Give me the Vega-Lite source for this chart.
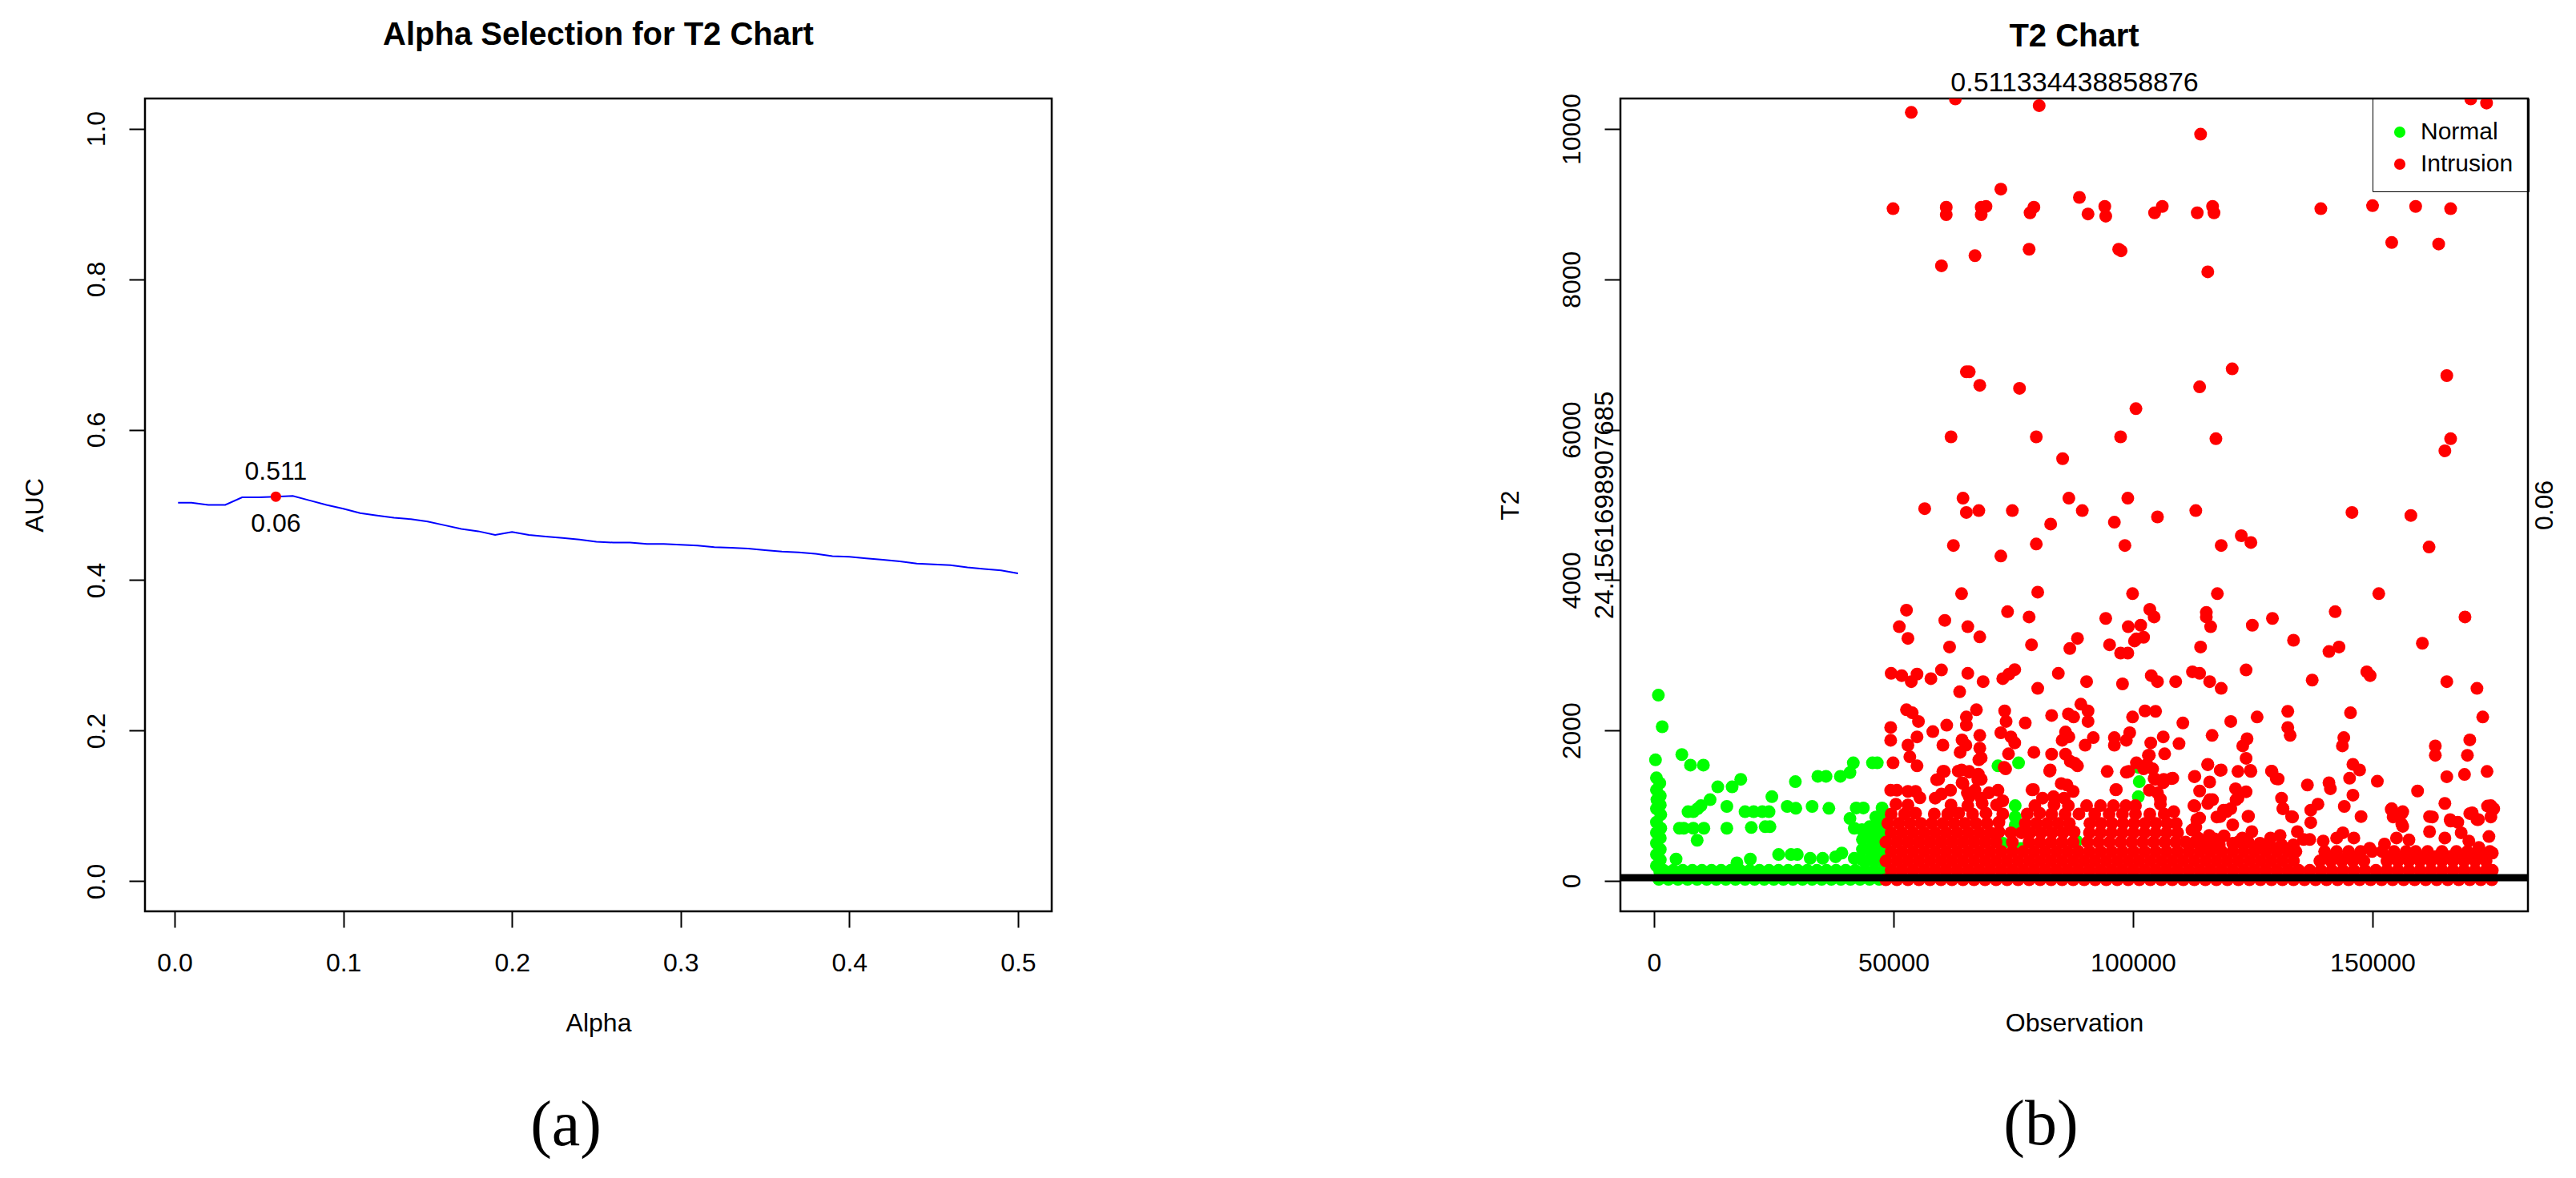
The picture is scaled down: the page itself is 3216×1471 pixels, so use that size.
{"$schema":"https://vega.github.io/schema/vega-lite/v6.json","background":"white","padding":{"left":25,"top":22,"right":0,"bottom":0},"bounds":"flush","spacing":710,"resolve":{"scale":{"color":"independent"},"legend":{"color":"independent"}},
"config":{"font":"Liberation Sans","axis":{"grid":false,"domain":false,"tickColor":"black","tickWidth":2,"tickSize":20,"labelColor":"black","labelFontSize":32,"titleFontSize":32,"titleFontWeight":"normal","titleColor":"black","labelPadding":24,"labelFlush":false,"labelOverlap":false},"axisY":{"labelAngle":270,"labelAlign":"center","labelBaseline":"bottom","titlePadding":44},"axisX":{"labelPadding":29,"titlePadding":44},"title":{"fontSize":40,"fontWeight":"bold","color":"black","anchor":"middle","offset":59},"view":{"stroke":"black","strokeWidth":2.5}},
"datasets":{"auc":[{"a":0.002,"v":0.503},{"a":0.01,"v":0.503},{"a":0.02,"v":0.5},{"a":0.03,"v":0.5},{"a":0.04,"v":0.51},{"a":0.05,"v":0.51},{"a":0.06,"v":0.511},{"a":0.07,"v":0.512},{"a":0.08,"v":0.506},{"a":0.09,"v":0.5},{"a":0.1,"v":0.495},{"a":0.11,"v":0.489},{"a":0.12,"v":0.486},{"a":0.13,"v":0.483},{"a":0.14,"v":0.481},{"a":0.15,"v":0.478},{"a":0.16,"v":0.473},{"a":0.17,"v":0.468},{"a":0.18,"v":0.465},{"a":0.19,"v":0.46},{"a":0.2,"v":0.464},{"a":0.21,"v":0.46},{"a":0.22,"v":0.458},{"a":0.23,"v":0.456},{"a":0.24,"v":0.454},{"a":0.25,"v":0.451},{"a":0.26,"v":0.45},{"a":0.27,"v":0.45},{"a":0.28,"v":0.448},{"a":0.29,"v":0.448},{"a":0.3,"v":0.447},{"a":0.31,"v":0.446},{"a":0.32,"v":0.444},{"a":0.33,"v":0.443},{"a":0.34,"v":0.442},{"a":0.35,"v":0.44},{"a":0.36,"v":0.438},{"a":0.37,"v":0.437},{"a":0.38,"v":0.435},{"a":0.39,"v":0.432},{"a":0.4,"v":0.431},{"a":0.41,"v":0.429},{"a":0.42,"v":0.427},{"a":0.43,"v":0.425},{"a":0.44,"v":0.422},{"a":0.45,"v":0.421},{"a":0.46,"v":0.42},{"a":0.47,"v":0.417},{"a":0.48,"v":0.415},{"a":0.49,"v":0.413},{"a":0.5,"v":0.409}],
"norm":[{"o":900,"t":2470},{"o":1700,"t":2050},{"o":300,"t":1610},{"o":5800,"t":1680},{"o":7600,"t":1540},{"o":10300,"t":1540},{"o":500,"t":1370},{"o":1200,"t":1300},{"o":500,"t":1210},{"o":1300,"t":1130},{"o":600,"t":1080},{"o":1300,"t":1010},{"o":500,"t":960},{"o":1400,"t":880},{"o":500,"t":780},{"o":1400,"t":700},{"o":500,"t":640},{"o":1300,"t":570},{"o":500,"t":500},{"o":1300,"t":420},{"o":500,"t":350},{"o":1300,"t":280},{"o":500,"t":200},{"o":1200,"t":120},{"o":4600,"t":290},{"o":6200,"t":700},{"o":5300,"t":700},{"o":8200,"t":700},{"o":10400,"t":700},{"o":9000,"t":540},{"o":15200,"t":700},{"o":20300,"t":710},{"o":23200,"t":720},{"o":24200,"t":720},{"o":7100,"t":920},{"o":8200,"t":920},{"o":9100,"t":960},{"o":9800,"t":1000},{"o":11700,"t":1080},{"o":15200,"t":990},{"o":19000,"t":920},{"o":20800,"t":920},{"o":22600,"t":920},{"o":24000,"t":920},{"o":27800,"t":990},{"o":29600,"t":965},{"o":33000,"t":990},{"o":36500,"t":965},{"o":24600,"t":1120},{"o":13300,"t":1250},{"o":16300,"t":1250},{"o":18100,"t":1350},{"o":29500,"t":1320},{"o":34200,"t":1390},{"o":35900,"t":1390},{"o":38900,"t":1390},{"o":40900,"t":1440},{"o":41600,"t":1570},{"o":45600,"t":1570},{"o":46600,"t":1570},{"o":42200,"t":970},{"o":43700,"t":970},{"o":40900,"t":830},{"o":41800,"t":700},{"o":17300,"t":240},{"o":20100,"t":290},{"o":26000,"t":350},{"o":28600,"t":350},{"o":29900,"t":350},{"o":32600,"t":300},{"o":35200,"t":300},{"o":39200,"t":370},{"o":37900,"t":320},{"o":41800,"t":300},{"o":43400,"t":680},{"o":43500,"t":550},{"o":43500,"t":420},{"o":43500,"t":280},{"o":45000,"t":720},{"o":45000,"t":570},{"o":45000,"t":420},{"o":45000,"t":280},{"o":46300,"t":850},{"o":46300,"t":700},{"o":46300,"t":550},{"o":46300,"t":400},{"o":46300,"t":270},{"o":47600,"t":970},{"o":47600,"t":820},{"o":47600,"t":680},{"o":47600,"t":540},{"o":47600,"t":400},{"o":47600,"t":270},{"o":71800,"t":1530},{"o":76100,"t":1570},{"o":75400,"t":1000},{"o":75400,"t":850},{"o":75400,"t":740},{"o":72800,"t":500},{"o":76600,"t":430},{"o":88200,"t":530},{"o":101100,"t":1510},{"o":101300,"t":1320},{"o":101100,"t":1120},{"o":1000,"t":20},{"o":3000,"t":20},{"o":5000,"t":20},{"o":7000,"t":20},{"o":9000,"t":20},{"o":11000,"t":20},{"o":13000,"t":20},{"o":15000,"t":20},{"o":17000,"t":20},{"o":19000,"t":20},{"o":21000,"t":20},{"o":23000,"t":20},{"o":25000,"t":20},{"o":27000,"t":20},{"o":29000,"t":20},{"o":31000,"t":20},{"o":33000,"t":20},{"o":35000,"t":20},{"o":37000,"t":20},{"o":39000,"t":20},{"o":41000,"t":20},{"o":43000,"t":20},{"o":45000,"t":20},{"o":47000,"t":20},{"o":2000,"t":140},{"o":4000,"t":140},{"o":6000,"t":140},{"o":8000,"t":140},{"o":10000,"t":140},{"o":12000,"t":140},{"o":14000,"t":140},{"o":16000,"t":140},{"o":18000,"t":140},{"o":20000,"t":140},{"o":22000,"t":140},{"o":24000,"t":140},{"o":26000,"t":140},{"o":28000,"t":140},{"o":30000,"t":140},{"o":32000,"t":140},{"o":34000,"t":140},{"o":36000,"t":140},{"o":38000,"t":140},{"o":40000,"t":140},{"o":42000,"t":140},{"o":44000,"t":140},{"o":46000,"t":140},{"o":48000,"t":140}],
"intr":[{"o":62900,"t":10400},{"o":53700,"t":10220},{"o":80400,"t":10310},{"o":114100,"t":9930},{"o":170500,"t":10400},{"o":173800,"t":10345},{"o":72400,"t":9200},{"o":88800,"t":9090},{"o":49900,"t":8940},{"o":61000,"t":8960},{"o":61000,"t":8860},{"o":68300,"t":8960},{"o":68300,"t":8860},{"o":69300,"t":8970},{"o":78500,"t":8885},{"o":79300,"t":8960},{"o":90600,"t":8870},{"o":94100,"t":8970},{"o":94300,"t":8840},{"o":104500,"t":8885},{"o":106100,"t":8970},{"o":113400,"t":8885},{"o":116600,"t":8970},{"o":116900,"t":8885},{"o":139200,"t":8940},{"o":150000,"t":8980},{"o":159000,"t":8970},{"o":166300,"t":8940},{"o":154000,"t":8490},{"o":163800,"t":8470},{"o":78300,"t":8400},{"o":97000,"t":8400},{"o":97500,"t":8380},{"o":67000,"t":8315},{"o":60000,"t":8180},{"o":115600,"t":8100},{"o":65200,"t":6770},{"o":65800,"t":6770},{"o":120700,"t":6810},{"o":165500,"t":6720},{"o":68000,"t":6590},{"o":76300,"t":6550},{"o":113900,"t":6570},{"o":100600,"t":6280},{"o":62000,"t":5905},{"o":79800,"t":5905},{"o":97400,"t":5905},{"o":117300,"t":5880},{"o":166300,"t":5880},{"o":165100,"t":5720},{"o":85300,"t":5615},{"o":64500,"t":5090},{"o":86600,"t":5090},{"o":98900,"t":5090},{"o":56500,"t":4950},{"o":65200,"t":4900},{"o":67800,"t":4925},{"o":74800,"t":4925},{"o":89400,"t":4925},{"o":113100,"t":4925},{"o":145700,"t":4900},{"o":158000,"t":4860},{"o":105100,"t":4840},{"o":96100,"t":4770},{"o":82800,"t":4745},{"o":122600,"t":4590},{"o":124600,"t":4500},{"o":62500,"t":4460},{"o":79800,"t":4480},{"o":98300,"t":4460},{"o":118400,"t":4460},{"o":161800,"t":4440},{"o":72400,"t":4320},{"o":64200,"t":3820},{"o":80100,"t":3840},{"o":99900,"t":3820},{"o":117600,"t":3820},{"o":151300,"t":3820},{"o":52700,"t":3600},{"o":73800,"t":3580},{"o":78300,"t":3510},{"o":60700,"t":3465},{"o":94300,"t":3490},{"o":103500,"t":3610},{"o":104400,"t":3510},{"o":115300,"t":3570},{"o":115300,"t":3510},{"o":129100,"t":3490},{"o":142200,"t":3580},{"o":169300,"t":3510},{"o":51200,"t":3380},{"o":65500,"t":3380},{"o":99000,"t":3380},{"o":101600,"t":3400},{"o":116200,"t":3380},{"o":124900,"t":3400},{"o":53000,"t":3225},{"o":68000,"t":3245},{"o":88400,"t":3225},{"o":100700,"t":3220},{"o":102200,"t":3240},{"o":100300,"t":3190},{"o":133500,"t":3200},{"o":61700,"t":3110},{"o":78800,"t":3140},{"o":95100,"t":3140},{"o":86800,"t":3090},{"o":114100,"t":3110},{"o":97400,"t":3030},{"o":98900,"t":3030},{"o":140900,"t":3050},{"o":143000,"t":3110},{"o":160400,"t":3160},{"o":49500,"t":2760},{"o":51700,"t":2730},{"o":53700,"t":2650},{"o":54900,"t":2750},{"o":57800,"t":2690},{"o":60000,"t":2805},{"o":65500,"t":2760},{"o":68700,"t":2650},{"o":72800,"t":2690},{"o":74100,"t":2750},{"o":75300,"t":2810},{"o":84400,"t":2760},{"o":90300,"t":2650},{"o":97800,"t":2620},{"o":103800,"t":2730},{"o":105100,"t":2650},{"o":108900,"t":2650},{"o":112400,"t":2780},{"o":113900,"t":2760},{"o":116000,"t":2650},{"o":118400,"t":2560},{"o":123600,"t":2805},{"o":137400,"t":2670},{"o":148800,"t":2780},{"o":149500,"t":2730},{"o":165500,"t":2650},{"o":171800,"t":2560},{"o":63800,"t":2515},{"o":80100,"t":2560},{"o":89100,"t":2350},{"o":90600,"t":2260},{"o":52700,"t":2275},{"o":53900,"t":2235},{"o":55200,"t":2120},{"o":67300,"t":2275},{"o":65200,"t":2180},{"o":73200,"t":2260},{"o":73500,"t":2120},{"o":83000,"t":2200},{"o":86500,"t":2220},{"o":87600,"t":2180},{"o":90600,"t":2120},{"o":99900,"t":2180},{"o":102500,"t":2260},{"o":104700,"t":2255},{"o":110400,"t":2100},{"o":120400,"t":2120},{"o":125900,"t":2180},{"o":132300,"t":2255},{"o":145400,"t":2235},{"o":173000,"t":2180},{"o":49400,"t":2040},{"o":61100,"t":2070},{"o":65200,"t":2070},{"o":77500,"t":2100},{"o":132300,"t":2040},{"o":49400,"t":1870},{"o":54900,"t":1915},{"o":58200,"t":1985},{"o":68000,"t":1935},{"o":72400,"t":1970},{"o":74500,"t":1915},{"o":85900,"t":1980},{"o":86600,"t":1915},{"o":85200,"t":1870},{"o":91700,"t":1905},{"o":96100,"t":1905},{"o":99300,"t":1970},{"o":106300,"t":1915},{"o":116500,"t":1935},{"o":132800,"t":1935},{"o":144000,"t":1905},{"o":123800,"t":1890},{"o":170300,"t":1875},{"o":53000,"t":1805},{"o":60300,"t":1805},{"o":64300,"t":1875},{"o":65100,"t":1805},{"o":75300,"t":1835},{"o":90000,"t":1805},{"o":96100,"t":1805},{"o":98600,"t":1870},{"o":103700,"t":1835},{"o":109600,"t":1825},{"o":122900,"t":1795},{"o":143700,"t":1795},{"o":163100,"t":1795},{"o":63900,"t":1710},{"o":68000,"t":1765},{"o":79300,"t":1710},{"o":83000,"t":1685},{"o":85900,"t":1685},{"o":74000,"t":1690},{"o":103200,"t":1670},{"o":106600,"t":1690},{"o":123600,"t":1630},{"o":163100,"t":1670},{"o":169800,"t":1670},{"o":49900,"t":1570},{"o":53400,"t":1650},{"o":54900,"t":1530},{"o":67800,"t":1610},{"o":73100,"t":1510},{"o":86900,"t":1590},{"o":88400,"t":1530},{"o":100700,"t":1570},{"o":102900,"t":1550},{"o":115600,"t":1550},{"o":145900,"t":1550},{"o":147300,"t":1475},{"o":60300,"t":1455},{"o":63500,"t":1460},{"o":65800,"t":1445},{"o":82600,"t":1460},{"o":94600,"t":1455},{"o":98600,"t":1445},{"o":102200,"t":1490},{"o":118200,"t":1470},{"o":124500,"t":1470},{"o":128900,"t":1460},{"o":169200,"t":1415},{"o":173900,"t":1455},{"o":165500,"t":1385},{"o":59000,"t":1345},{"o":64300,"t":1305},{"o":67600,"t":1345},{"o":112800,"t":1385},{"o":116000,"t":1315},{"o":129900,"t":1360},{"o":104400,"t":1360},{"o":108000,"t":1360},{"o":106300,"t":1305},{"o":140900,"t":1305},{"o":145200,"t":1365},{"o":151000,"t":1325},{"o":136400,"t":1275},{"o":141200,"t":1225},{"o":78900,"t":1210},{"o":96400,"t":1210},{"o":113900,"t":1195},{"o":121400,"t":1225},{"o":123600,"t":1185},{"o":159400,"t":1195},{"o":131000,"t":1100},{"o":145900,"t":1140},{"o":165100,"t":1030},{"o":138600,"t":1020},{"o":144100,"t":990},{"o":131300,"t":960},{"o":137100,"t":940},{"o":112700,"t":1000},{"o":116000,"t":1080},{"o":121900,"t":1100},{"o":120400,"t":960},{"o":124000,"t":855},{"o":153900,"t":950},{"o":156100,"t":895},{"o":133100,"t":855},{"o":147600,"t":855},{"o":174700,"t":1000},{"o":175000,"t":940},{"o":170300,"t":895},{"o":171800,"t":815},{"o":161900,"t":855},{"o":166300,"t":795},{"o":137100,"t":775},{"o":118200,"t":855},{"o":119400,"t":940},{"o":113900,"t":835},{"o":113100,"t":715},{"o":156100,"t":755},{"o":49400,"t":1205},{"o":50700,"t":1205},{"o":53000,"t":1190},{"o":54600,"t":1190},{"o":55500,"t":1105},{"o":58700,"t":1100},{"o":60000,"t":1155},{"o":61900,"t":1205},{"o":65800,"t":1120},{"o":68300,"t":1100},{"o":69900,"t":1170},{"o":71800,"t":1205},{"o":65400,"t":1170},{"o":67000,"t":1205},{"o":72800,"t":1065},{"o":81100,"t":1100},{"o":83400,"t":1120},{"o":85600,"t":1100},{"o":59400,"t":1350},{"o":64200,"t":1475},{"o":65800,"t":1455},{"o":67700,"t":1420},{"o":68300,"t":1350},{"o":64500,"t":1295},{"o":60600,"t":1455},{"o":73400,"t":1490},{"o":68300,"t":1635},{"o":85000,"t":1295},{"o":86200,"t":1275},{"o":87500,"t":1190},{"o":79200,"t":1215},{"o":82700,"t":1475},{"o":87800,"t":1565},{"o":96500,"t":1215},{"o":103400,"t":1670},{"o":104100,"t":1490},{"o":99100,"t":1455},{"o":104700,"t":1350},{"o":106400,"t":1350},{"o":108300,"t":1365},{"o":103400,"t":1205},{"o":105100,"t":1170},{"o":105700,"t":1090},{"o":112900,"t":1390},{"o":115600,"t":1545},{"o":118400,"t":1475},{"o":121900,"t":1455},{"o":124600,"t":1455},{"o":129000,"t":1455},{"o":130300,"t":1355},{"o":124100,"t":860},{"o":121500,"t":1080},{"o":118900,"t":940},{"o":112900,"t":995},{"o":115600,"t":1030},{"o":116600,"t":1080},{"o":117500,"t":850},{"o":119500,"t":920},{"o":120800,"t":745},{"o":122800,"t":570},{"o":124800,"t":655},{"o":113300,"t":815},{"o":112300,"t":675},{"o":113600,"t":570},{"o":115900,"t":605},{"o":131300,"t":960},{"o":133300,"t":850},{"o":134300,"t":655},{"o":130700,"t":605},{"o":128700,"t":570},{"o":135600,"t":550},{"o":136900,"t":550},{"o":139700,"t":530},{"o":142500,"t":570},{"o":143800,"t":640},{"o":146100,"t":570},{"o":149400,"t":435},{"o":152500,"t":490},{"o":154000,"t":960},{"o":154300,"t":850},{"o":156300,"t":920},{"o":156300,"t":725},{"o":155000,"t":570},{"o":157600,"t":545},{"o":161900,"t":655},{"o":162500,"t":850},{"o":165100,"t":570},{"o":166200,"t":815},{"o":167800,"t":780},{"o":168500,"t":640},{"o":170100,"t":530},{"o":172200,"t":445},{"o":175000,"t":370},{"o":174300,"t":590},{"o":174700,"t":850},{"o":175300,"t":960},{"o":170800,"t":905},{"o":172100,"t":815},{"o":174000,"t":995},{"o":48400,"t":15},{"o":50700,"t":15},{"o":53000,"t":15},{"o":55300,"t":15},{"o":57600,"t":15},{"o":59900,"t":15},{"o":62200,"t":15},{"o":64500,"t":15},{"o":66800,"t":15},{"o":69100,"t":15},{"o":71400,"t":15},{"o":73700,"t":15},{"o":76000,"t":15},{"o":78300,"t":15},{"o":80600,"t":15},{"o":82900,"t":15},{"o":85200,"t":15},{"o":87500,"t":15},{"o":89800,"t":15},{"o":92100,"t":15},{"o":94400,"t":15},{"o":96700,"t":15},{"o":99000,"t":15},{"o":101300,"t":15},{"o":103600,"t":15},{"o":105900,"t":15},{"o":108200,"t":15},{"o":110500,"t":15},{"o":112800,"t":15},{"o":115100,"t":15},{"o":117400,"t":15},{"o":119700,"t":15},{"o":122000,"t":15},{"o":124300,"t":15},{"o":126600,"t":15},{"o":128900,"t":15},{"o":131200,"t":15},{"o":133500,"t":15},{"o":135800,"t":15},{"o":138100,"t":15},{"o":140400,"t":15},{"o":142700,"t":15},{"o":145000,"t":15},{"o":147300,"t":15},{"o":149600,"t":15},{"o":151900,"t":15},{"o":154200,"t":15},{"o":156500,"t":15},{"o":158800,"t":15},{"o":161100,"t":15},{"o":163400,"t":15},{"o":165700,"t":15},{"o":168000,"t":15},{"o":170300,"t":15},{"o":172600,"t":15},{"o":174900,"t":15},{"o":49500,"t":140},{"o":51800,"t":140},{"o":54100,"t":140},{"o":56400,"t":140},{"o":58700,"t":140},{"o":61000,"t":140},{"o":63300,"t":140},{"o":65600,"t":140},{"o":67900,"t":140},{"o":70200,"t":140},{"o":72500,"t":140},{"o":74800,"t":140},{"o":77100,"t":140},{"o":79400,"t":140},{"o":81700,"t":140},{"o":84000,"t":140},{"o":86300,"t":140},{"o":88600,"t":140},{"o":90900,"t":140},{"o":93200,"t":140},{"o":95500,"t":140},{"o":97800,"t":140},{"o":100100,"t":140},{"o":102400,"t":140},{"o":104700,"t":140},{"o":107000,"t":140},{"o":109300,"t":140},{"o":111600,"t":140},{"o":113900,"t":140},{"o":116200,"t":140},{"o":118500,"t":140},{"o":120800,"t":140},{"o":123100,"t":140},{"o":125400,"t":140},{"o":127700,"t":140},{"o":130000,"t":140},{"o":132300,"t":140},{"o":134600,"t":140},{"o":136900,"t":140},{"o":139200,"t":140},{"o":141500,"t":140},{"o":143800,"t":140},{"o":146100,"t":140},{"o":148400,"t":140},{"o":150700,"t":140},{"o":153000,"t":140},{"o":155300,"t":140},{"o":157600,"t":140},{"o":159900,"t":140},{"o":162200,"t":140},{"o":164500,"t":140},{"o":166800,"t":140},{"o":169100,"t":140},{"o":171400,"t":140},{"o":173700,"t":140},{"o":175000,"t":140},{"o":48400,"t":265},{"o":50700,"t":265},{"o":53000,"t":265},{"o":55300,"t":265},{"o":57600,"t":265},{"o":59900,"t":265},{"o":62200,"t":265},{"o":64500,"t":265},{"o":66800,"t":265},{"o":69100,"t":265},{"o":71400,"t":265},{"o":73700,"t":265},{"o":76000,"t":265},{"o":78300,"t":265},{"o":80600,"t":265},{"o":82900,"t":265},{"o":85200,"t":265},{"o":87500,"t":265},{"o":89800,"t":265},{"o":92100,"t":265},{"o":94400,"t":265},{"o":96700,"t":265},{"o":99000,"t":265},{"o":101300,"t":265},{"o":103600,"t":265},{"o":105900,"t":265},{"o":108200,"t":265},{"o":110500,"t":265},{"o":112800,"t":265},{"o":115100,"t":265},{"o":117400,"t":265},{"o":119700,"t":265},{"o":122000,"t":265},{"o":124300,"t":265},{"o":126600,"t":265},{"o":128900,"t":265},{"o":131200,"t":265},{"o":133500,"t":265},{"o":139000,"t":265},{"o":141300,"t":265},{"o":143600,"t":265},{"o":145900,"t":265},{"o":148200,"t":265},{"o":153000,"t":265},{"o":155300,"t":265},{"o":157600,"t":265},{"o":159900,"t":265},{"o":162200,"t":265},{"o":164500,"t":265},{"o":166800,"t":265},{"o":169100,"t":265},{"o":171400,"t":265},{"o":173700,"t":265},{"o":140200,"t":325},{"o":141400,"t":325},{"o":144800,"t":325},{"o":147000,"t":325},{"o":154200,"t":325},{"o":156400,"t":325},{"o":158300,"t":325},{"o":160700,"t":325},{"o":163300,"t":325},{"o":166000,"t":325},{"o":168300,"t":325},{"o":170800,"t":325},{"o":173000,"t":325},{"o":49500,"t":390},{"o":51800,"t":390},{"o":54100,"t":390},{"o":56400,"t":390},{"o":58700,"t":390},{"o":61000,"t":390},{"o":63300,"t":390},{"o":65600,"t":390},{"o":67900,"t":390},{"o":70200,"t":390},{"o":72500,"t":390},{"o":74800,"t":390},{"o":77100,"t":390},{"o":79400,"t":390},{"o":81700,"t":390},{"o":84000,"t":390},{"o":86300,"t":390},{"o":88600,"t":390},{"o":90900,"t":390},{"o":93200,"t":390},{"o":95500,"t":390},{"o":97800,"t":390},{"o":100100,"t":390},{"o":102400,"t":390},{"o":104700,"t":390},{"o":107000,"t":390},{"o":109300,"t":390},{"o":111600,"t":390},{"o":113900,"t":390},{"o":116200,"t":390},{"o":118500,"t":390},{"o":120800,"t":390},{"o":123100,"t":390},{"o":125400,"t":390},{"o":127700,"t":390},{"o":130000,"t":390},{"o":132300,"t":390},{"o":134000,"t":390},{"o":140000,"t":390},{"o":142500,"t":390},{"o":145000,"t":390},{"o":147500,"t":390},{"o":149900,"t":390},{"o":152000,"t":390},{"o":154500,"t":390},{"o":157000,"t":390},{"o":159000,"t":390},{"o":161500,"t":390},{"o":164500,"t":390},{"o":167500,"t":390},{"o":169800,"t":390},{"o":172000,"t":390},{"o":174500,"t":390},{"o":48400,"t":515},{"o":50700,"t":515},{"o":53000,"t":515},{"o":55300,"t":515},{"o":57600,"t":515},{"o":59900,"t":515},{"o":62200,"t":515},{"o":64500,"t":515},{"o":66800,"t":515},{"o":69100,"t":515},{"o":71400,"t":515},{"o":74800,"t":515},{"o":78300,"t":515},{"o":80600,"t":515},{"o":82900,"t":515},{"o":85200,"t":515},{"o":87500,"t":515},{"o":90500,"t":515},{"o":92800,"t":515},{"o":95100,"t":515},{"o":97400,"t":515},{"o":99700,"t":515},{"o":102000,"t":515},{"o":104300,"t":515},{"o":106600,"t":515},{"o":108900,"t":515},{"o":111000,"t":515},{"o":112900,"t":515},{"o":114000,"t":520},{"o":115000,"t":480},{"o":116000,"t":520},{"o":117000,"t":560},{"o":118000,"t":480},{"o":119000,"t":600},{"o":120800,"t":500},{"o":122000,"t":520},{"o":124000,"t":520},{"o":125500,"t":450},{"o":126500,"t":500},{"o":128500,"t":480},{"o":131000,"t":480},{"o":133500,"t":480},{"o":49500,"t":640},{"o":51800,"t":640},{"o":54100,"t":640},{"o":56400,"t":640},{"o":58700,"t":640},{"o":61000,"t":640},{"o":63300,"t":640},{"o":65600,"t":640},{"o":67900,"t":640},{"o":70200,"t":640},{"o":72000,"t":650},{"o":74500,"t":640},{"o":76700,"t":640},{"o":78500,"t":640},{"o":80800,"t":640},{"o":83100,"t":640},{"o":85400,"t":640},{"o":87700,"t":650},{"o":90900,"t":640},{"o":93200,"t":640},{"o":95500,"t":640},{"o":97800,"t":640},{"o":100100,"t":640},{"o":102400,"t":640},{"o":104700,"t":640},{"o":107000,"t":640},{"o":109300,"t":640},{"o":48800,"t":765},{"o":51100,"t":765},{"o":53400,"t":765},{"o":55700,"t":765},{"o":58000,"t":765},{"o":60300,"t":765},{"o":62600,"t":765},{"o":64900,"t":765},{"o":67200,"t":765},{"o":69500,"t":765},{"o":72000,"t":780},{"o":77500,"t":765},{"o":79800,"t":765},{"o":82100,"t":765},{"o":84400,"t":765},{"o":86700,"t":765},{"o":91000,"t":765},{"o":93300,"t":765},{"o":95600,"t":765},{"o":97900,"t":765},{"o":100200,"t":765},{"o":102500,"t":765},{"o":104800,"t":765},{"o":107100,"t":765},{"o":109000,"t":765},{"o":49500,"t":890},{"o":52300,"t":890},{"o":54600,"t":900},{"o":58500,"t":890},{"o":61300,"t":890},{"o":63600,"t":900},{"o":66500,"t":890},{"o":69300,"t":900},{"o":72800,"t":890},{"o":77900,"t":890},{"o":80500,"t":900},{"o":83000,"t":890},{"o":85800,"t":890},{"o":88700,"t":890},{"o":92000,"t":890},{"o":95000,"t":890},{"o":97800,"t":890},{"o":100500,"t":890},{"o":103500,"t":890},{"o":106500,"t":890},{"o":108500,"t":920},{"o":50500,"t":1020},{"o":53000,"t":1010},{"o":62000,"t":1010},{"o":65500,"t":1000},{"o":68500,"t":1030},{"o":71500,"t":1010},{"o":79500,"t":1000},{"o":83500,"t":1010},{"o":86500,"t":1000},{"o":90300,"t":1000},{"o":93200,"t":1000},{"o":95900,"t":1000},{"o":98500,"t":1000},{"o":100500,"t":1000},{"o":105700,"t":1020}]},
"hconcat":[
{"width":1132,"height":1015,"title":"Alpha Selection for T2 Chart","layer":[
{"data":{"name":"auc"},"mark":{"type":"line","color":"#0000ff","strokeWidth":2},"encoding":{"x":{"field":"a","type":"quantitative","scale":{"domain":[-0.0176,0.52],"nice":false,"zero":false},"axis":{"title":"Alpha","values":[0,0.1,0.2,0.3,0.4,0.5],"format":".1f"}},"y":{"field":"v","type":"quantitative","scale":{"domain":[-0.04,1.04],"nice":false,"zero":false},"axis":{"title":"AUC","values":[0,0.2,0.4,0.6,0.8,1],"format":".1f"}}}},
{"data":{"values":[{"a":0.06,"v":0.511,"l":"0.511","m":"0.06"}]},"layer":[
{"mark":{"type":"point","filled":true,"color":"#ff0000","size":170,"opacity":1},"encoding":{"x":{"field":"a","type":"quantitative"},"y":{"field":"v","type":"quantitative"}}},
{"mark":{"type":"text","fontSize":32,"dy":-31,"color":"black"},"encoding":{"x":{"field":"a","type":"quantitative"},"y":{"field":"v","type":"quantitative"},"text":{"field":"l"}}},
{"mark":{"type":"text","fontSize":32,"dy":34,"color":"black"},"encoding":{"x":{"field":"a","type":"quantitative"},"y":{"field":"v","type":"quantitative"},"text":{"field":"m"}}}]},
{"data":{"values":[{"l":"(a)"}]},"mark":{"type":"text","font":"Liberation Serif","fontSize":80,"color":"black","clip":false},"encoding":{"x":{"datum":0.232,"type":"quantitative"},"y":{"datum":-0.325,"type":"quantitative"},"text":{"field":"l"}}}
]},
{"width":1133,"height":1015,"title":{"text":"T2 Chart","offset":21},"layer":[
{"data":{"name":"norm"},"mark":{"type":"point","filled":true,"size":256,"opacity":1,"clip":true},"encoding":{"x":{"field":"o","type":"quantitative","scale":{"domain":[-7023,182440],"nice":false,"zero":false},"axis":{"title":"Observation","values":[0,50000,100000,150000],"format":"d"}},"y":{"field":"t","type":"quantitative","scale":{"domain":[-405,10405],"nice":false,"zero":false},"axis":{"title":"T2","values":[0,2000,4000,6000,8000,10000],"format":"d"}},"color":{"datum":"Normal","type":"nominal","scale":{"domain":["Normal","Intrusion"],"range":["#00ff00","#ff0000"]},"legend":{"orient":"none","legendX":939,"legendY":0,"title":" ","titleFontSize":8,"titlePadding":0,"strokeColor":"black","padding":19,"rowPadding":10,"labelFontSize":30,"labelOffset":11,"labelColor":"black","symbolSize":200,"symbolStrokeWidth":0,"symbolType":"circle","symbolOpacity":1}}}},
{"data":{"name":"intr"},"mark":{"type":"point","filled":true,"size":256,"opacity":1,"clip":true},"encoding":{"x":{"field":"o","type":"quantitative"},"y":{"field":"t","type":"quantitative"},"color":{"datum":"Intrusion","type":"nominal"}}},
{"data":{"values":[{"t":42}]},"mark":{"type":"rule","color":"black","strokeWidth":9},"encoding":{"y":{"field":"t","type":"quantitative"}}},
{"data":{"values":[{"l":"0.511334438858876"}]},"mark":{"type":"text","fontSize":34,"color":"black","clip":false},"encoding":{"x":{"datum":87800,"type":"quantitative"},"y":{"datum":10607,"type":"quantitative"},"text":{"field":"l"}}},
{"data":{"values":[{"l":"24.1561698907685"}]},"mark":{"type":"text","fontSize":33,"angle":270,"color":"black","clip":false},"encoding":{"x":{"datum":-10200,"type":"quantitative"},"y":{"datum":4995,"type":"quantitative"},"text":{"field":"l"}}},
{"data":{"values":[{"l":"0.06"}]},"mark":{"type":"text","fontSize":32,"angle":270,"color":"black","clip":false},"encoding":{"x":{"datum":185950,"type":"quantitative"},"y":{"datum":4995,"type":"quantitative"},"text":{"field":"l"}}},
{"data":{"values":[{"l":"(b)"}]},"mark":{"type":"text","font":"Liberation Serif","fontSize":80,"color":"black","clip":false},"encoding":{"x":{"datum":80770,"type":"quantitative"},"y":{"datum":-3248,"type":"quantitative"},"text":{"field":"l"}}}
]}
]}
